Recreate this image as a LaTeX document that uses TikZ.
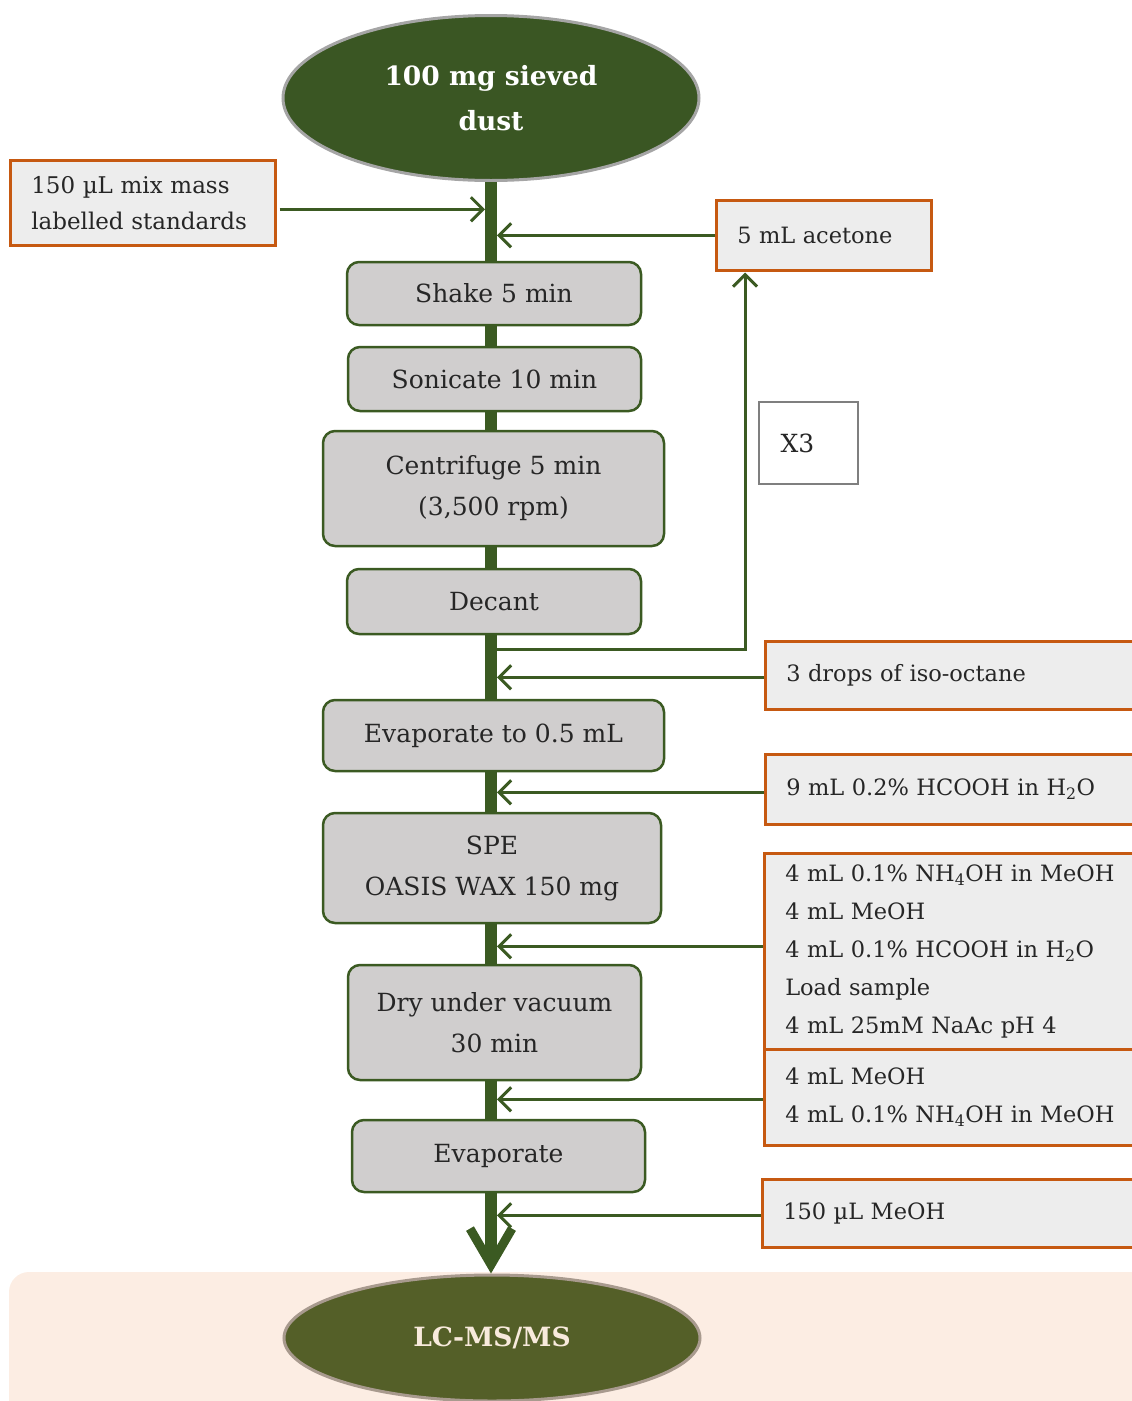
\documentclass[tikz,border=0pt]{standalone}
\usepackage{fontspec}
\setmainfont{DejaVu Serif}
\usetikzlibrary{arrows.meta,shapes.geometric,calc}

\definecolor{flowgreen}{HTML}{3B5A22}
\definecolor{startgreen}{HTML}{3A5623}
\definecolor{endolive}{HTML}{545F28}
\definecolor{endtext}{HTML}{F8EADC}
\definecolor{stepgray}{HTML}{D0CECE}
\definecolor{reagentgray}{HTML}{EDEDED}
\definecolor{reagentedge}{HTML}{C65911}
\definecolor{rimgray}{HTML}{A5A5A5}
\definecolor{rimbrown}{HTML}{A89A8E}
\definecolor{ink}{HTML}{262626}
\definecolor{peach}{HTML}{FCEDE3}
\definecolor{countgray}{HTML}{7F7F7F}

\newcommand{\stepfont}{\fontsize{25}{41}\selectfont}
\newcommand{\reagentfont}{\fontsize{22.5}{38}\selectfont}

\begin{document}
\begin{tikzpicture}[x=1pt,y=-1pt,
  stepbox/.style={draw=flowgreen, line width=2.5pt, fill=stepgray,
    rounded corners=12pt, align=center, font=\stepfont, text=ink, inner sep=0pt},
  reagent/.style={draw=reagentedge, line width=2.5pt, fill=reagentgray,
    anchor=north west, align=left, font=\reagentfont, text=ink,
    inner xsep=21pt, inner ysep=0pt},
  terminal/.style={ellipse, line width=3pt, inner sep=0pt, align=center,
    font=\bfseries\fontsize{26.5}{45}\selectfont},
  trunk/.style={draw=flowgreen, line width=12pt},
  feed/.style={draw=flowgreen, line width=3pt,
    -{Straight Barb[length=12pt,width=24pt]}},
]
\path[use as bounding box, clip] (0,0) rectangle (1132,1401);

% shaded band behind the final step
\fill[peach, rounded corners=20pt] (9,1272) rectangle (1160,1440);

% start and end
\node[terminal, draw=rimgray, fill=startgreen, text=white,
  minimum width=416pt, minimum height=165pt] (top) at (491,98)
  {100 mg sieved\\dust};
\node[terminal, draw=rimbrown, fill=endolive, text=endtext,
  minimum width=416pt, minimum height=126pt] (lcms) at (492,1338)
  {LC-MS/MS};

% processing steps
\node[stepbox, minimum width=294pt, minimum height=63pt] (shake) at (494,293.5) {Shake 5 min};
\node[stepbox, minimum width=293pt, minimum height=64pt] (sonicate) at (494.5,379) {Sonicate 10 min};
\node[stepbox, minimum width=341pt, minimum height=115pt] (centrifuge) at (493.5,488.5) {Centrifuge 5 min\\(3,500 rpm)};
\node[stepbox, minimum width=294pt, minimum height=65pt] (decant) at (494,601.5) {Decant};
\node[stepbox, minimum width=341pt, minimum height=71pt] (evaphalf) at (493.5,735.5) {Evaporate to 0.5 mL};
\node[stepbox, minimum width=338pt, minimum height=110pt] (spe) at (492,868) {SPE\\OASIS WAX 150 mg};
\node[stepbox, minimum width=293pt, minimum height=115pt] (dry) at (494.5,1022.5) {Dry under vacuum\\30 min};
\node[stepbox, minimum width=293pt, minimum height=72pt] (evap) at (498.5,1156) {Evaporate};

% reagents
\node[reagent, text width=223pt, minimum height=85pt,
  font=\fontsize{23}{36}\selectfont] (std) at (9,159)
  {150 µL mix mass\\labelled standards};
\node[reagent, text width=173pt, minimum height=70pt] (acetone) at (715,199) {5 mL acetone};
\node[reagent, text width=344pt, minimum height=68pt] (iso) at (764,640) {3 drops of iso-octane};
\node[reagent, text width=344pt, minimum height=70pt] (formic) at (764,753)
  {9 mL 0.2\% HCOOH in H\textsubscript{2}O};
\node[reagent, text width=345pt, minimum height=196pt] (condition) at (763,852)
  {4 mL 0.1\% NH\textsubscript{4}OH in MeOH\\4 mL MeOH\\4 mL 0.1\% HCOOH in H\textsubscript{2}O\\Load sample\\4 mL 25mM NaAc pH 4};
\node[reagent, text width=345pt, minimum height=96pt] (elute) at (763,1048)
  {4 mL MeOH\\4 mL 0.1\% NH\textsubscript{4}OH in MeOH};
\node[reagent, text width=347pt, minimum height=68pt] (recon) at (761,1178) {150 µL MeOH};

% repeat counter
\node[draw=countgray, line width=2pt, fill=white, minimum width=99pt,
  minimum height=82pt, font=\fontsize{25}{30}\selectfont, text=ink] (repeat) at (808.5,443) {X3\hspace*{22pt}};

% main flow line
\draw[trunk] (top.south) -- (top.south |- shake.north);
\draw[trunk] (shake.south -| top.south) -- (sonicate.north -| top.south);
\draw[trunk] (sonicate.south -| top.south) -- (centrifuge.north -| top.south);
\draw[trunk] (centrifuge.south -| top.south) -- (decant.north -| top.south);
\draw[trunk] (decant.south -| top.south) -- (evaphalf.north -| top.south);
\draw[trunk] (evaphalf.south -| top.south) -- (spe.north -| top.south);
\draw[trunk] (spe.south -| top.south) -- (dry.north -| top.south);
\draw[trunk] (dry.south -| top.south) -- (evap.north -| top.south);
\draw[trunk, -{Straight Barb[length=36pt,width=42pt,line width=9pt]}]
  (evap.south -| top.south) -- (lcms.north -| top.south);

% trunk edges where the side lines meet it
\coordinate (tl) at (485,0);
\coordinate (tr) at (497,0);

% reagent additions
\draw[feed] ($(std.east)+(3,6.5)$) coordinate (s1) -- (s1 -| tl);
\draw[feed] (acetone.west) -- (acetone.west -| tr);
\coordinate (loopA) at (497,649);
\draw[feed] (loopA) -| ($(acetone.south west)+(30,1)$);
\draw[feed] ($(iso.west)+(0,2)$) coordinate (s2) -- (s2 -| tr);
\draw[feed] ($(formic.west)+(0,3)$) coordinate (s3) -- (s3 -| tr);
\draw[feed] ($(condition.west)+(0,-5)$) coordinate (s4) -- (s4 -| tr);
\draw[feed] ($(elute.west)+(0,2)$) coordinate (s5) -- (s5 -| tr);
\draw[feed] ($(recon.west)+(0,2)$) coordinate (s6) -- (s6 -| tr);
\end{tikzpicture}
\end{document}
